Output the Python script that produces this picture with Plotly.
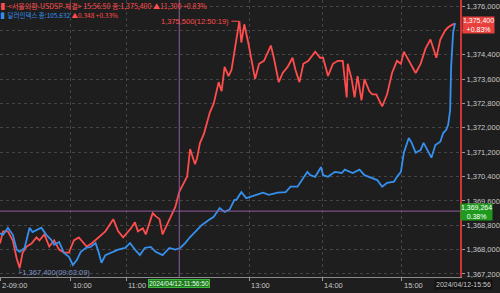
import plotly.graph_objects as go

# ---- data (tick-index positions) ----
red_x = [0, 3, 8, 13, 17, 20, 23, 27, 32, 37, 40, 45, 50, 55, 60, 65, 70, 75, 80, 85, 88, 93,
         100, 107, 115, 120, 125, 128, 133, 137, 140, 145, 148, 153, 155, 158, 162, 165, 168,
         172, 175, 178, 182, 187, 190, 193, 196, 198, 200, 203, 207, 210, 213, 217, 222, 225,
         228, 232, 235, 238, 240, 243, 245, 248, 252, 255, 259, 263, 268, 275, 278, 283, 287,
         292, 297, 300, 304, 308, 313, 320, 325, 328, 333, 338, 343, 348, 352, 353, 357, 360,
         363, 367, 370, 375, 378, 382, 388, 393, 398, 403, 407, 410, 415, 422, 427, 432, 437,
         440, 443, 447, 452, 455, 460, 462]
red_v = [1368200, 1368600, 1368600, 1368300, 1367700, 1367400, 1367900, 1368100, 1368200,
         1368400, 1368300, 1368500, 1368100, 1368300, 1368000, 1367900, 1367900, 1368300,
         1368400, 1368200, 1368100, 1368200, 1368400, 1368600, 1369000, 1368600, 1368400,
         1368500, 1368700, 1368900, 1368600, 1368700, 1368500, 1369000, 1369200, 1369100,
         1369000, 1368500, 1368700, 1369000, 1369200, 1369400, 1369900, 1370200, 1370400,
         1371300, 1371000, 1370800, 1371000, 1371500, 1371800, 1372200, 1372500, 1372800,
         1373500, 1373200, 1374000, 1373700, 1373900, 1374500, 1374900, 1375500, 1374800,
         1375400, 1374800, 1374300, 1373600, 1374100, 1374200, 1374700, 1374300, 1373500,
         1373800, 1374000, 1374300, 1373900, 1373500, 1374100, 1374200, 1374500, 1374300,
         1374300, 1373700, 1374100, 1374200, 1374200, 1373000, 1374100, 1373600, 1373000,
         1373700, 1372900, 1373600, 1373200, 1373100, 1373100, 1372700, 1373100, 1373800,
         1374200, 1374100, 1374500, 1374200, 1373800, 1374100, 1374600, 1374900, 1374600,
         1374300, 1374900, 1375200, 1375300, 1375400, 1375400]

blue_x = [0, 3, 8, 13, 17, 20, 25, 30, 33, 38, 42, 47, 52, 55, 60, 65, 70, 74, 78, 82, 87, 92,
          97, 100, 103, 107, 113, 120, 127, 132, 137, 142, 147, 153, 158, 165, 172, 178, 183,
          188, 193, 200, 205, 212, 217, 223, 228, 233, 238, 240, 245, 250, 260, 267, 273, 282,
          290, 295, 302, 308, 312, 315, 320, 326, 328, 333, 340, 347, 350, 358, 365, 370, 377,
          383, 388, 393, 400, 403, 407, 410, 415, 418, 422, 427, 430, 435, 438, 442, 447, 450,
          453, 455, 457, 458, 460, 462]
blue_v = [105.248, 105.245, 105.258, 105.245, 105.218, 105.214, 105.221, 105.258, 105.250,
          105.254, 105.258, 105.245, 105.236, 105.227, 105.232, 105.212, 105.205, 105.190,
          105.199, 105.214, 105.221, 105.223, 105.230, 105.214, 105.194, 105.208, 105.212,
          105.218, 105.221, 105.230, 105.218, 105.208, 105.221, 105.223, 105.214, 105.208,
          105.221, 105.218, 105.221, 105.230, 105.241, 105.254, 105.263, 105.272, 105.278,
          105.294, 105.287, 105.291, 105.309, 105.309, 105.323, 105.312, 105.318, 105.322,
          105.318, 105.322, 105.323, 105.333, 105.333, 105.349, 105.360, 105.354, 105.351,
          105.369, 105.354, 105.351, 105.360, 105.358, 105.364, 105.358, 105.364, 105.354,
          105.349, 105.345, 105.333, 105.340, 105.342, 105.351, 105.360, 105.395, 105.422,
          105.413, 105.395, 105.400, 105.413, 105.395, 105.386, 105.409, 105.415, 105.431,
          105.437, 105.446, 105.473, 105.552, 105.614, 105.632]

x_tick_idx = [0, 72, 128, 253, 327, 408]
x_tick_labels = ["2-09:00", "10:00", "11:00", "13:00", "14:00", "15:00"]
y_tick_vals = [1367200 + 800 * i for i in range(12)]
y_hidden_tick = 1375200  # covered by the last-value box in the reference

cross_x = 182
cross_x_label = "2024/04/12-11:56:50"
cross_y = 1369264
cross_y_pct = "0.38%"
last_label = "2024/04/12-15:56"
max_time = "12:50:19"
min_time = "09:03:09"

RED = "#ff4d4d"
BLUE = "#3590ee"
BG = "#1e1e1e"
TXT = "#c8c8c8"
PURPLE = "#8e5c9e"
NUMFONT = "Liberation Sans Narrow, Liberation Sans, Arial"
KRFONT = "Noto Sans CJK KR"

fig = go.Figure()
fig.add_trace(go.Scatter(x=red_x, y=red_v, mode="lines", line=dict(color=RED, width=1.8),
                         yaxis="y", hoverinfo="skip"))
fig.add_trace(go.Scatter(x=blue_x, y=blue_v, mode="lines", line=dict(color=BLUE, width=1.8),
                         yaxis="y2", hoverinfo="skip"))

# crosshair
fig.add_shape(type="line", xref="x", yref="paper", x0=cross_x, x1=cross_x, y0=0, y1=1,
              line=dict(color=PURPLE, width=1))
fig.add_shape(type="line", xref="paper", yref="y", x0=0, x1=1, y0=cross_y, y1=cross_y,
              line=dict(color=PURPLE, width=1))

ann = []
# legend rows
ann.append(dict(xref="paper", yref="paper", x=0, y=1, xanchor="left", yanchor="top",
                xshift=-1, yshift=1, showarrow=False, align="left",
                text="<span style='color:#ff4d4d'>▌&lt;서울외환-USDSP-체결&gt; 15:56:50 종:1,375,400 ▲11,300 +0.83%</span>",
                font=dict(family=KRFONT, size=7, color=RED)))
ann.append(dict(xref="paper", yref="paper", x=0, y=1, xanchor="left", yanchor="top",
                xshift=-1, yshift=-8, showarrow=False, align="left",
                text="<span style='color:#3590ee'>▌달러인덱스 종:105.632</span> <span style='color:#ff4d4d'>▲0.348 +0.33%</span>",
                font=dict(family=KRFONT, size=6.5, color=BLUE)))

# max / min annotations
imax = max(range(len(red_v)), key=lambda i: red_v[i])
imin = min(range(len(red_v)), key=lambda i: red_v[i])
ann.append(dict(x=red_x[imax], y=red_v[imax], xref="x", yref="y", showarrow=True,
                arrowhead=0, arrowwidth=1, arrowcolor=RED, ax=-8, ay=0, xanchor="right",
                text=f"{red_v[imax]:,}({max_time})", font=dict(family=NUMFONT, size=7.5, color=RED)))
ann.append(dict(x=red_x[imin], y=red_v[imin], xref="x", yref="y", showarrow=False,
                xanchor="left", yanchor="top", xshift=-5, yshift=2,
                text=f"└{red_v[imin]:,}({min_time})", font=dict(family=NUMFONT, size=7.5, color="#7f93c4")))

# x tick labels
for xi, lab in zip(x_tick_idx, x_tick_labels):
    ann.append(dict(x=xi, y=0, xref="x", yref="paper", xanchor="left", yanchor="top",
                    yshift=-2, xshift=0, showarrow=False, text=lab,
                    font=dict(family=NUMFONT, size=7.5, color=TXT)))

# crosshair labels
ann.append(dict(x=cross_x, y=0, xref="x", yref="paper", xanchor="center", yanchor="top",
                yshift=-2, showarrow=False, text=cross_x_label, bgcolor="#1c7a1c",
                bordercolor="#39b839", borderwidth=1, borderpad=0,
                font=dict(family=NUMFONT, size=6.5, color="#e8ffe8")))
ann.append(dict(x=1, y=cross_y, xref="paper", yref="y", xanchor="left", yanchor="middle",
                xshift=0, yshift=-1, showarrow=False,
                text=f"{cross_y:,}<br>{cross_y_pct}", bgcolor="#1f9a1f", borderpad=0,
                font=dict(family=NUMFONT, size=7, color="#ffffff")))
# last value label
last_red = red_v[-1]
pct = "+0.83%"
ann.append(dict(x=1, y=last_red, xref="paper", yref="y", xanchor="left", yanchor="middle",
                xshift=2, yshift=-1, showarrow=False,
                text=f"{last_red:,}<br>{pct}", bgcolor="#e8403c", borderpad=0,
                font=dict(family=NUMFONT, size=7, color="#ffffff")))
# bottom-right date
ann.append(dict(x=1, y=0, xref="paper", yref="paper", xanchor="right", yanchor="top",
                xshift=33, yshift=-2, showarrow=False, text=last_label, bgcolor="#121212",
                font=dict(family=NUMFONT, size=7, color=TXT)))

y_tick_text = ["" if v == y_hidden_tick else f"{v:,}" for v in y_tick_vals]

fig.update_layout(
    width=500, height=293,
    margin=dict(l=0, r=33, t=0, b=16),
    paper_bgcolor=BG, plot_bgcolor=BG,
    showlegend=False,
    annotations=ann,
    xaxis=dict(range=[0, 467], tickvals=x_tick_idx, showticklabels=False, ticks="outside",
               ticklen=3, tickcolor="#999", showgrid=True, gridcolor="#444", griddash="dot",
               gridwidth=1, showline=True, linecolor="#8a8a8a", linewidth=1, zeroline=False,
               fixedrange=True),
    yaxis=dict(range=[1367100, 1376197], side="right", tickvals=y_tick_vals,
               ticktext=y_tick_text,
               ticks="outside", ticklen=3, tickcolor="#999", showgrid=True, gridcolor="#444",
               griddash="dot", gridwidth=1, showline=True, linecolor="#d23434", linewidth=2,
               zeroline=False, tickfont=dict(family=NUMFONT, size=7.5, color=TXT),
               fixedrange=True),
    yaxis2=dict(range=[105.168, 105.674], overlaying="y", side="right", visible=False,
                showgrid=False, zeroline=False),
)

fig.write_html("out.html")
